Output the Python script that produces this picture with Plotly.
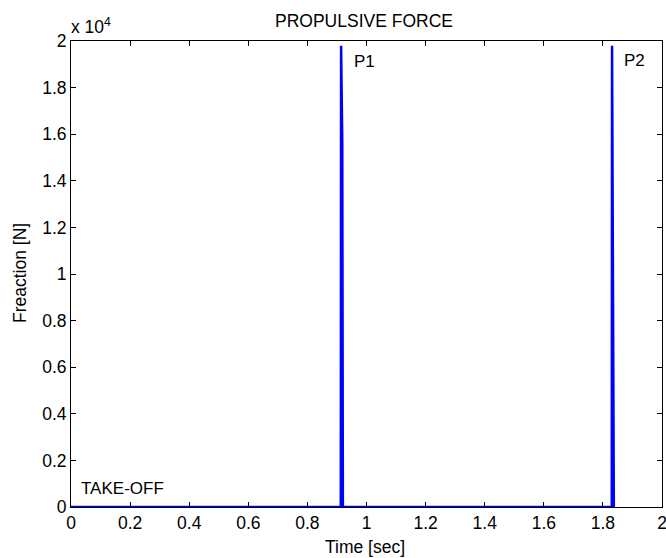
import plotly.graph_objects as go

# Data (time in s, force in N)
time_s = [0.0, 0.913, 0.914, 0.917, 0.918, 0.920, 1.830, 1.831, 1.834, 1.835, 1.837]
force_n = [0, 0, 19800, 15700, 15700, 0, 0, 19800, 7700, 7700, 0]

x_ticks = [0, 0.2, 0.4, 0.6, 0.8, 1.0, 1.2, 1.4, 1.6, 1.8, 2.0]
x_ticklabels = ["0", "0.2", "0.4", "0.6", "0.8", "1", "1.2", "1.4", "1.6", "1.8", "2"]
y_ticks = [0, 2000, 4000, 6000, 8000, 10000, 12000, 14000, 16000, 18000, 20000]
y_ticklabels = ["0", "0.2", "0.4", "0.6", "0.8", "1", "1.2", "1.4", "1.6", "1.8", "2"]

labels = [
    {"text": "P1", "t": 0.951, "f": 19100},
    {"text": "P2", "t": 1.866, "f": 19150},
    {"text": "TAKE-OFF", "t": 0.027, "f": 800},
]

FAM = "Liberation Sans, Arial, sans-serif"
font = dict(family=FAM, size=17.5, color="black")

W, H = 666, 558
L, T, R, B = 71, 41, 4, 51

fig = go.Figure()
fig.add_trace(go.Scatter(x=time_s, y=force_n, mode="lines",
                         line=dict(color="#0000FF", width=2.5), showlegend=False))

for lb in labels:
    fig.add_annotation(x=lb["t"], y=lb["f"], text=lb["text"], showarrow=False,
                       xanchor="left", yanchor="middle", font=dict(family=FAM, size=17, color="black"))

fig.add_annotation(x=0, y=1, xref="paper", yref="paper", text="x 10<sup>4</sup>",
                   showarrow=False, xanchor="left", yanchor="bottom", yshift=2, xshift=-2,
                   font=font)

# axis titles
fig.add_annotation(x=0, y=0.5, xref="paper", yref="paper", text="Freaction [N]",
                   showarrow=False, textangle=-90, xanchor="center", yanchor="middle",
                   xshift=-51, yshift=1, font=font)
fig.add_annotation(x=0.5, y=0, xref="paper", yref="paper", text="Time [sec]",
                   showarrow=False, xanchor="center", yanchor="middle",
                   xshift=-2, yshift=-40, font=font)

axis_common = dict(showline=True, linecolor="black", linewidth=1, mirror="ticks",
                   ticks="inside", ticklen=5, tickcolor="black", tickwidth=1,
                   showgrid=False, zeroline=False, tickfont=font, automargin=False,
                   ticklabeloverflow="allow")

fig.update_layout(
    width=W, height=H,
    margin=dict(l=L, r=R, t=T, b=B, autoexpand=False),
    paper_bgcolor="white", plot_bgcolor="white",
    title=dict(text="PROPULSIVE FORCE", x=364 / W, xanchor="center", y=1 - 21 / H,
               yanchor="middle", font=font),
    font=font,
    xaxis=dict(axis_common, range=[0, 2], tickvals=x_ticks, ticktext=x_ticklabels),
    yaxis=dict(axis_common, range=[0, 20000], tickvals=y_ticks, ticktext=y_ticklabels),
)

fig.write_html("out.html", config={"displayModeBar": False},
               post_script="document.body.style.margin='0';document.body.style.overflow='hidden';")
